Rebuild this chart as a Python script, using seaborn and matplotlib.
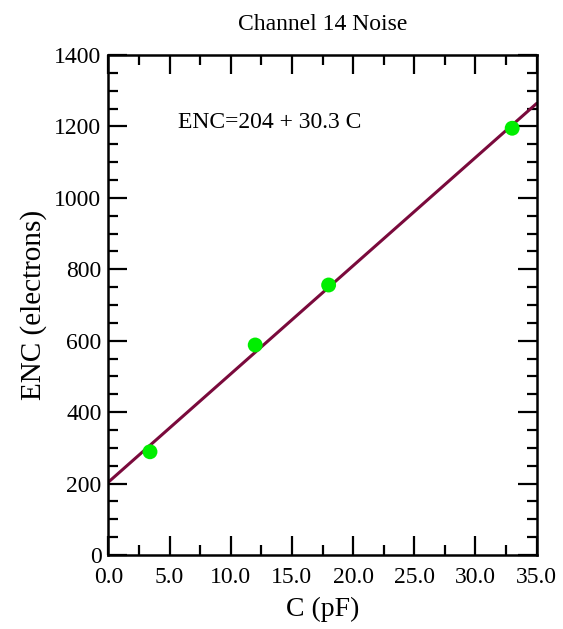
import numpy as np
import pandas as pd
import matplotlib.pyplot as plt
import seaborn as sns
from matplotlib.ticker import MultipleLocator, FormatStrFormatter

# measured points
cap_pf = [3.4, 12.0, 18.0, 33.0]
enc = [289, 588, 756, 1195]

# linear fit ENC = 204 + 30.3 C, drawn between its end points
fit_c = [0.0, 35.0]
fit_enc = [204.0, 1264.5]

df = pd.DataFrame({'C': cap_pf, 'ENC': enc})
fit = pd.DataFrame({'C': fit_c, 'ENC': fit_enc})

sns.set_style('ticks', {'text.color': 'black', 'axes.labelcolor': 'black'})
plt.rcParams['font.family'] = ['Liberation Serif', 'DejaVu Serif']

fig = plt.figure(figsize=(5.63, 6.29), dpi=100)
ax = fig.add_axes([0.1925, 0.1177, 0.7607, 0.7948])

sns.lineplot(data=fit, x='C', y='ENC', color='#7a0a3c', linewidth=2.2, ax=ax)
sns.scatterplot(data=df, x='C', y='ENC', color='#00ee00', s=115, marker='o',
                edgecolor='none', ax=ax, zorder=3)

ax.set_xlim(0, 35)
ax.set_ylim(0, 1400)
ax.xaxis.set_major_locator(MultipleLocator(5))
ax.xaxis.set_minor_locator(MultipleLocator(2.5))
ax.yaxis.set_major_locator(MultipleLocator(200))
ax.yaxis.set_minor_locator(MultipleLocator(50))
ax.xaxis.set_major_formatter(FormatStrFormatter('%.1f'))

ax.tick_params(which='both', direction='in', top=True, right=True,
               width=1.6, colors='black', labelsize=17, pad=5)
ax.tick_params(axis='x', which='major', pad=9)
ax.tick_params(which='major', length=14)
ax.tick_params(which='minor', length=7)
for s in ax.spines.values():
    s.set_linewidth(1.8)
    s.set_color('black')

ax.set_xlabel('C (pF)', fontsize=20, labelpad=6, color='black')
ax.set_ylabel('ENC (electrons)', fontsize=21, labelpad=5, color='black')
ax.set_title('Channel 14 Noise', fontsize=17, pad=18, color='black')
ax.text(5.7, 1212, 'ENC=204 + 30.3 C', fontsize=17, va='center', ha='left',
        color='black')

fig.savefig('out.png', dpi=100)
